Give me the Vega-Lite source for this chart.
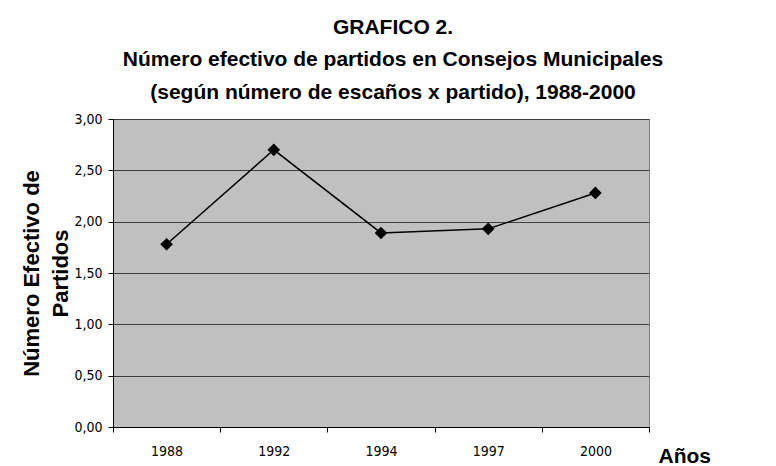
{
  "$schema": "https://vega.github.io/schema/vega-lite/v6.json",
  "width": 536,
  "height": 308,
  "autosize": {"type": "none"},
  "padding": {"left": 113, "top": 119, "right": 127, "bottom": 39},
  "background": "white",
  "config": {
    "locale": {"number": {"decimal": ",", "thousands": ".", "grouping": [3], "currency": ["", " €"]}},
    "view": {"fill": "#C0C0C0", "stroke": "#808080", "strokeWidth": 1}
  },
  "title": {
    "text": "GRAFICO 2.",
    "subtitle": ["Número efectivo de partidos en Consejos Municipales", "(según número de escaños x partido), 1988-2000"],
    "anchor": "middle",
    "frame": "group",
    "font": "Liberation Sans",
    "fontSize": 21,
    "fontWeight": "bold",
    "color": "black",
    "subtitleFont": "Liberation Sans",
    "subtitleFontSize": 21,
    "subtitleFontWeight": "bold",
    "subtitleColor": "black",
    "subtitleLineHeight": 33,
    "subtitlePadding": 11,
    "offset": 9,
    "dx": 12
  },
  "data": {
    "values": [
      {"year": "1988", "value": 1.78},
      {"year": "1992", "value": 2.70},
      {"year": "1994", "value": 1.89},
      {"year": "1997", "value": 1.93},
      {"year": "2000", "value": 2.28}
    ]
  },
  "encoding": {
    "x": {
      "field": "year",
      "type": "ordinal",
      "scale": {"type": "band", "paddingInner": 0, "paddingOuter": 0},
      "axis": {
        "title": "Años",
        "titleFont": "Liberation Sans",
        "titleFontSize": 21,
        "titleFontWeight": "bold",
        "titleColor": "black",
        "titleX": 545,
        "titleY": 35,
        "titleAlign": "left",
        "titleBaseline": "alphabetic",
        "labelAngle": 0,
        "labelFont": "DejaVu Sans Condensed, DejaVu Sans",
        "labelFontSize": 14,
        "labelColor": "black",
        "tickBand": "extent",
        "tickSize": 5,
        "tickColor": "black",
        "domainColor": "black",
        "labelPadding": 12,
        "grid": false
      }
    },
    "y": {
      "field": "value",
      "type": "quantitative",
      "scale": {"domain": [0, 3], "nice": false},
      "axis": {
        "title": ["Número Efectivo de", "Partidos"],
        "titleFont": "Liberation Sans",
        "titleFontSize": 22,
        "titleFontWeight": "bold",
        "titleColor": "black",
        "titleLineHeight": 29,
        "titleAngle": 270,
        "titleX": -75,
        "titleY": 154,
        "titleAlign": "center",
        "titleBaseline": "alphabetic",
        "values": [0, 0.5, 1, 1.5, 2, 2.5, 3],
        "format": ".2f",
        "grid": true,
        "gridColor": "#404040",
        "gridOpacity": 1,
        "labelFont": "DejaVu Sans Condensed, DejaVu Sans",
        "labelFontSize": 14,
        "labelColor": "black",
        "tickSize": 5,
        "tickColor": "black",
        "labelPadding": 6,
        "domainColor": "black"
      }
    }
  },
  "layer": [
    {"mark": {"type": "line", "color": "black", "strokeWidth": 1.5}},
    {"mark": {"type": "point", "shape": "diamond", "filled": true, "color": "black", "size": 160, "opacity": 1}}
  ]
}
